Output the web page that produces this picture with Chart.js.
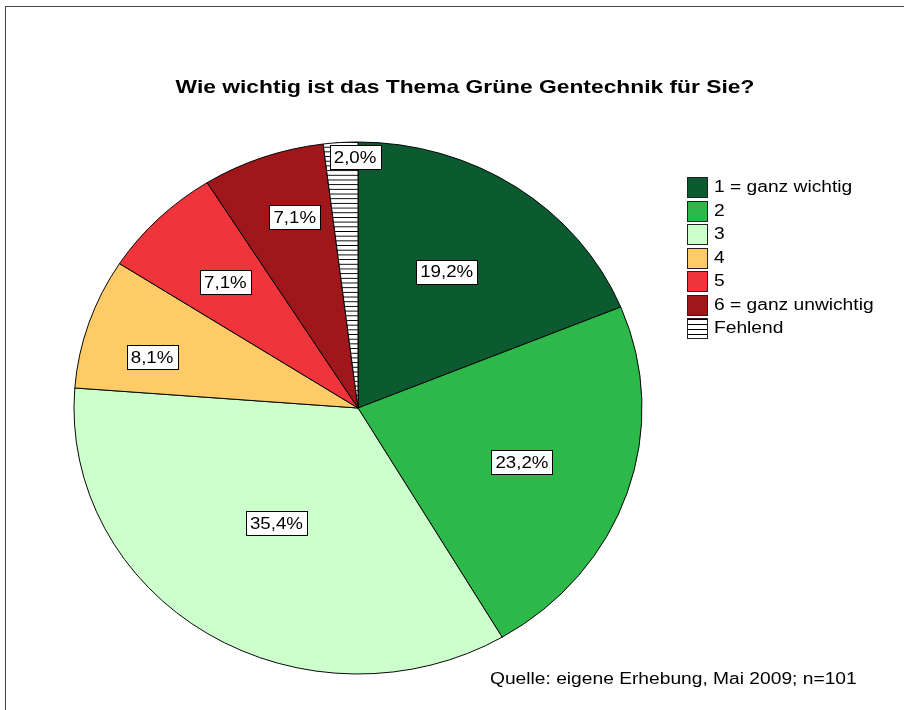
<!DOCTYPE html>
<html>
<head>
<meta charset="utf-8">
<script src="https://cdn.jsdelivr.net/npm/chart.js@4"></script>
<style>
	html, body { margin: 0; background: #fff; }
	#wrap { width: 904px; height: 710px; }
</style>
</head>
<body>
<div id="wrap"><canvas id="c" width="904" height="710"></canvas></div>
<script>
// Daten
const kategorien = ['1 = ganz wichtig', '2', '3', '4', '5', '6 = ganz unwichtig', 'Fehlend'];
const prozent = [19.2, 23.2, 35.4, 8.1, 7.1, 7.1, 2.0];
const beschriftung = ['19,2%', '23,2%', '35,4%', '8,1%', '7,1%', '7,1%', '2,0%'];
const titel = 'Wie wichtig ist das Thema Grüne Gentechnik für Sie?';
const quelle = 'Quelle: eigene Erhebung, Mai 2009; n=101';

const FONT = "'Liberation Sans', Arial, sans-serif";
const squash = 266 / 284;	// pie is a bit flatter than wide
const textStretch = 1.2;	// the original text is drawn wider
// where the value boxes sit: fraction of radius, and a small turn in degrees
const labelRadius = [0.6, 0.612, 0.52, 0.75, 0.665, 0.75, 0.944];
const labelShift = [-2.5, 0.8, 1.6, -3.8, 0, 2.3, 2.9];

// hatch for "Fehlend"
const pc = document.createElement('canvas');
pc.width = 8; pc.height = 5;
const pctx = pc.getContext('2d');
pctx.fillStyle = '#fff'; pctx.fillRect(0, 0, 8, 5);
pctx.fillStyle = '#000'; pctx.fillRect(0, 4, 8, 1);
const hatch = pctx.createPattern(pc, 'repeat');

const farben = ['#0b5a30', '#2db84a', '#ccffcc', '#fecb66', '#f0343c', '#a0171b', hatch];

function wideText(ctx, text, x, y, sx, align){
	ctx.save();
	ctx.translate(x, y);
	ctx.scale(sx, 1);
	ctx.textAlign = align;
	ctx.fillText(text, 0, 0);
	ctx.restore();
}

const ellipsePlugin = {
	id: 'ellipse',
	beforeDraw(chart) {
		const ctx = chart.ctx;
		ctx.save();
		ctx.strokeStyle = '#444';
		ctx.lineWidth = 1;
		ctx.strokeRect(5.5, 6.5, 920, 720);
		ctx.restore();
	},
	beforeDatasetsDraw(chart) {
		const arc = chart.getDatasetMeta(0).data[0];
		const ctx = chart.ctx;
		ctx.save();
		ctx.translate(arc.x, arc.y);
		ctx.scale(1, squash);
		ctx.translate(-arc.x, -arc.y);
	},
	afterDatasetsDraw(chart) {
		const ctx = chart.ctx;
		ctx.restore();

		// value labels in boxes
		ctx.save();
		ctx.font = '17px ' + FONT;
		ctx.textBaseline = 'middle';
		chart.getDatasetMeta(0).data.forEach((arc, i) => {
			const a = (arc.startAngle + arc.endAngle) / 2 + labelShift[i] * Math.PI / 180;
			const r = arc.outerRadius * labelRadius[i];
			const x = arc.x + Math.cos(a) * r;
			const y = arc.y + Math.sin(a) * r * squash;
			const w = Math.round(ctx.measureText(beschriftung[i]).width * 1.1 + 8);
			const h = 24;
			const bx = Math.round(x - w / 2) + 0.5, by = Math.round(y - h / 2) + 0.5;
			ctx.fillStyle = '#fff';
			ctx.fillRect(bx, by, w, h);
			ctx.strokeStyle = '#000';
			ctx.lineWidth = 1;
			ctx.strokeRect(bx, by, w, h);
			ctx.fillStyle = '#000';
			wideText(ctx, beschriftung[i], x, y + 1, 1.1, 'center');
		});
		ctx.restore();
	},
	afterDraw(chart) {
		const ctx = chart.ctx;
		ctx.save();
		ctx.fillStyle = '#000';
		ctx.textBaseline = 'middle';

		ctx.font = 'bold 19px ' + FONT;
		wideText(ctx, titel, 465, 88, textStretch, 'center');

		ctx.font = '16px ' + FONT;
		wideText(ctx, quelle, 490, 680, textStretch, 'left');

		// legend
		kategorien.forEach((k, i) => {
			const y = 177 + Math.round(i * 23.5);
			ctx.fillStyle = farben[i];
			ctx.fillRect(687, y, 20, 20);
			ctx.strokeStyle = '#222';
			ctx.strokeRect(687.5, y + 0.5, 20, 20);
			ctx.fillStyle = '#000';
			wideText(ctx, k, 714, y + 11, textStretch, 'left');
		});
		ctx.restore();
	}
};

new Chart(document.getElementById('c'), {
	type: 'pie',
	data: {
		labels: kategorien,
		datasets: [{
			data: prozent,
			backgroundColor: farben,
			borderColor: '#000',
			borderWidth: 1,
			radius: 284,
			clip: false
		}]
	},
	options: {
		responsive: false,
		animation: false,
		events: [],
		layout: { padding: { left: 74, right: 262, top: 142, bottom: 36 } },
		plugins: {
			legend: { display: false },
			title: { display: false },
			tooltip: { enabled: false }
		}
	},
	plugins: [ellipsePlugin]
});
</script>
</body>
</html>
